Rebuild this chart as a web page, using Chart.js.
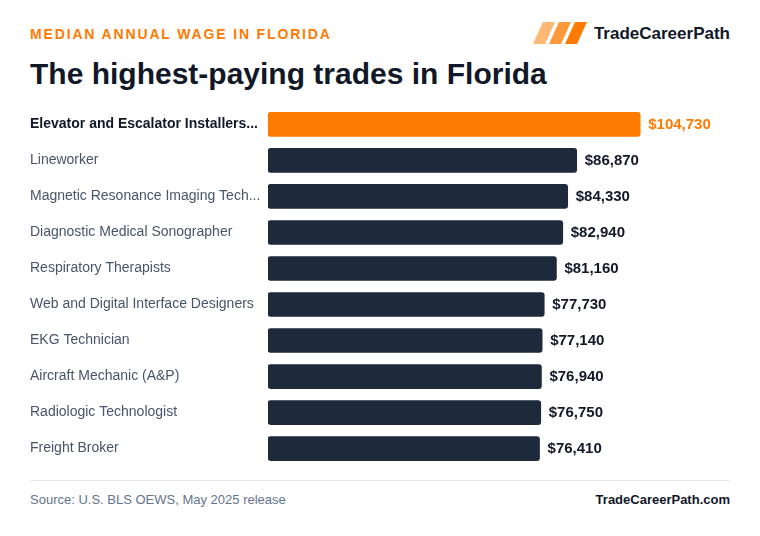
<!DOCTYPE html>
<html>
<head>
<meta charset="utf-8">
<script src="https://cdn.jsdelivr.net/npm/chart.js@4"></script>
<style>
  body { margin: 0; background: #ffffff; font-family: "Liberation Sans", Arial, sans-serif; }
  #page { position: relative; width: 760px; height: 536px; overflow: hidden; }
  .txt { position: absolute; white-space: nowrap; }
  #kicker { left: 30px; top: 27px; font-size: 14px; line-height: 14px; font-weight: bold; color: #ff7a00; letter-spacing: 1.85px; }
  #title { left: 30px; top: 59px; font-size: 30px; line-height: 30px; font-weight: bold; color: #111827; }
  #brand { right: 30px; top: 25px; font-size: 17px; line-height: 17px; font-weight: bold; color: #111827; }
  #logo { position: absolute; left: 533px; top: 22px; }
  #rule { position: absolute; left: 30px; width: 700px; top: 480px; height: 1px; background: #e5e7f2; }
  #source { left: 30px; top: 493px; font-size: 13px; line-height: 13px; color: #64748b; }
  #site { right: 30px; top: 493px; font-size: 13px; line-height: 13px; font-weight: bold; color: #111827; }
  #wrap { position: absolute; left: 0; top: 98px; width: 760px; height: 377px; }
</style>
</head>
<body>
<div id="page">
  <div class="txt" id="kicker">MEDIAN ANNUAL WAGE IN FLORIDA</div>
  <svg id="logo" width="56" height="23" viewBox="0 0 56 23">
    <polygon points="10,0 22,0 12,22 0,22" fill="#ffb874"/>
    <polygon points="26,0 38,0 28,22 16,22" fill="#ff9a3c"/>
    <polygon points="42,0 54,0 44,22 32,22" fill="#ff7a00"/>
  </svg>
  <div class="txt" id="brand">TradeCareerPath</div>
  <div class="txt" id="title">The highest-paying trades in Florida</div>
  <div id="wrap"><canvas id="wageChart"></canvas></div>
  <div id="rule"></div>
  <div class="txt" id="source">Source: U.S. BLS OEWS, May 2025 release</div>
  <div class="txt" id="site">TradeCareerPath.com</div>
</div>

<script>
var trades = [
  'Elevator and Escalator Installers...',
  'Lineworker',
  'Magnetic Resonance Imaging Tech...',
  'Diagnostic Medical Sonographer',
  'Respiratory Therapists',
  'Web and Digital Interface Designers',
  'EKG Technician',
  'Aircraft Mechanic (A&P)',
  'Radiologic Technologist',
  'Freight Broker'
];
var wages = [104730, 86870, 84330, 82940, 81160, 77730, 77140, 76940, 76750, 76410];
var xMax = 130000;

var orange = '#ff7a00';
var navy = '#1e293b';

function money(v) {
  return '$' + v.toLocaleString('en-US');
}

// draws the $ value right after each bar
var valueLabels = {
  id: 'valueLabels',
  afterDatasetsDraw: function(chart) {
    var ctx = chart.ctx;
    var meta = chart.getDatasetMeta(0);
    ctx.save();
    ctx.font = 'bold 15px "Liberation Sans", Arial, sans-serif';
    ctx.textBaseline = 'middle';
    ctx.textAlign = 'left';
    meta.data.forEach(function(bar, i) {
      ctx.fillStyle = i === 0 ? orange : '#111827';
      ctx.fillText(money(wages[i]), bar.x + 8, bar.y);
    });
    ctx.restore();
  }
};

var config = {
  type: 'bar',
  data: {
    labels: trades,
    datasets: [{
      data: wages,
      backgroundColor: wages.map(function(v, i) { return i === 0 ? orange : navy; }),
      borderRadius: 3,
      borderSkipped: false,
      barThickness: 24
    }]
  },
  options: {
    indexAxis: 'y',
    responsive: true,
    maintainAspectRatio: false,
    animation: false,
    layout: { padding: { left: 30, right: 30, top: 0, bottom: 0 } },
    plugins: {
      legend: { display: false },
      tooltip: { enabled: false }
    },
    scales: {
      x: {
        display: false,
        min: 0,
        max: xMax
      },
      y: {
        grid: { display: false },
        border: { display: false },
        afterFit: function(scale) { scale.width = 238; },
        ticks: {
          crossAlign: 'far',
          padding: 0,
          color: function(c) { return c.index === 0 ? '#111827' : '#475569'; },
          font: function(c) {
            return {
              family: '"Liberation Sans", Arial, sans-serif',
              size: 14,
              weight: c.index === 0 ? 'bold' : 'normal'
            };
          }
        }
      }
    }
  },
  plugins: [valueLabels]
};

new Chart(document.getElementById('wageChart'), config);
</script>
</body>
</html>
